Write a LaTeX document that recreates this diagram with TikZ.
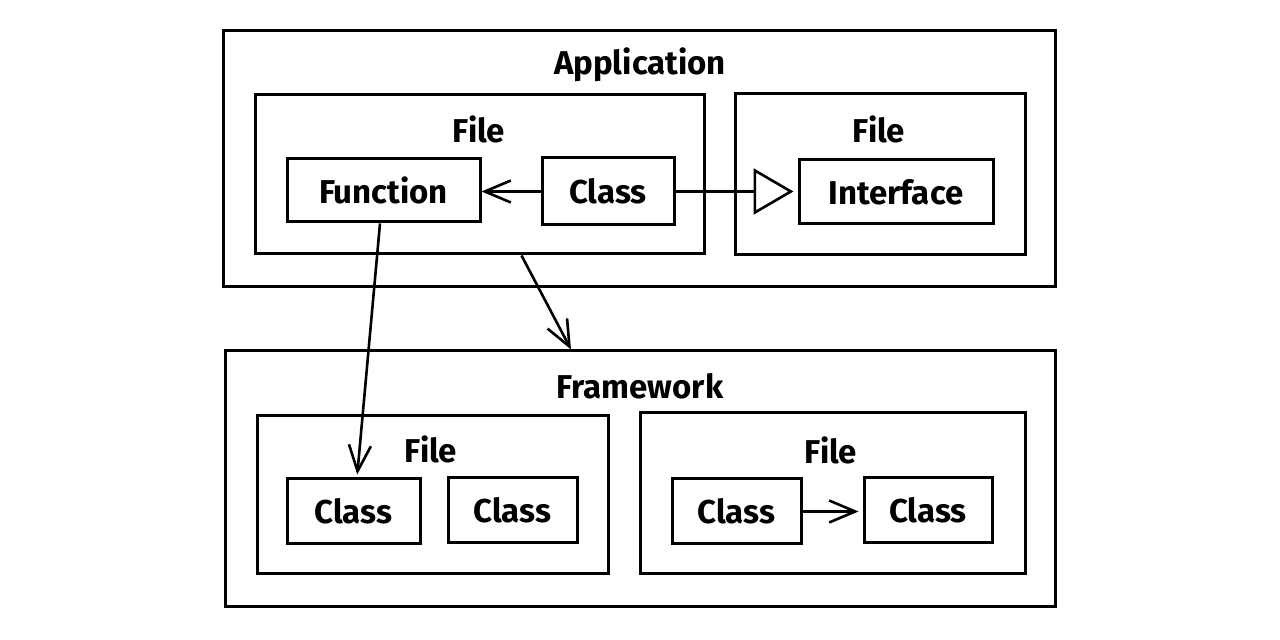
\documentclass[tikz,border=0pt]{standalone}
\usepackage{fontspec}
\setmainfont{Fira Sans}
\usetikzlibrary{arrows.meta}
\begin{document}
\begin{tikzpicture}[x=0.5pt,y=-0.5pt,
  box/.style={draw, line width=1.5pt, inner sep=0pt, minimum width=#1},
  title/.style={font=\fontsize{16.5}{19}\selectfont\bfseries},
  lbl/.style={font=\fontsize{16.5}{19}\selectfont\bfseries},
  conn/.style={line width=1.3pt},
  dep/.style={conn, -{Straight Barb[length=13pt,width=11pt,line width=1.3pt]}},
  impl/.style={conn, -{Triangle[open,length=20pt,width=23pt,line width=1.3pt]}}
]
\useasboundingbox (0,0) rectangle (1280,640);

% Application layer
\node[box=416pt, minimum height=128pt] (app) at (639,159) {};
\node[title] (apptitle) at (640,65) {Application};

\node[box=224.5pt, minimum height=79.5pt] (file1) at (479.5,174.5) {};
\node[title] (file1title) at (479,129) {File};
\node[box=96.5pt, minimum height=31.5pt, lbl] (func) at (383.5,190.5) {Function};
\node[box=66pt, minimum height=33.5pt, lbl] (cls1) at (608,191.5) {Class};

\node[box=145pt, minimum height=80.5pt] (file2) at (880,174.5) {};
\node[title] (file2title) at (879,129) {File};
\node[box=97pt, minimum height=32pt, lbl] (iface) at (896,192) {Interface};

% Framework layer
\node[box=415pt, minimum height=128pt] (fw) at (640,479) {};
\node[title] (fwtitle) at (640,386) {Framework};

\node[box=175.5pt, minimum height=79pt] (file3) at (432.5,495) {};
\node[title] (file3title) at (431,449) {File};
\node[box=66.5pt, minimum height=32.5pt, lbl] (cls2) at (353.5,511.5) {Class};
\node[box=64.5pt, minimum height=32.5pt, lbl] (cls3) at (512.5,510.5) {Class};

\node[box=192.5pt, minimum height=80.5pt] (file4) at (832.5,493.5) {};
\node[title] (file4title) at (831,450) {File};
\node[box=64.5pt, minimum height=32.5pt, lbl] (cls4) at (736.5,511.5) {Class};
\node[box=64pt, minimum height=32.5pt, lbl] (cls5) at (928,510.5) {Class};

% Connectors
\draw[dep] (cls1.west) -- (cls1.west -| func.east) ;
\draw[impl, shorten >=2pt] (cls1.east) -- (cls1.east -| iface.west);
\draw[dep, shorten >=1.5pt] ([xshift=-1.75pt]func.south) -- ([xshift=1.75pt]cls2.north);
\draw[dep] ([xshift=21pt]file1.south) -- ([xshift=-34.5pt]fw.north);
\draw[dep, shorten >=2pt] (cls4.east) -- (cls4.east -| cls5.west);
\end{tikzpicture}
\end{document}
